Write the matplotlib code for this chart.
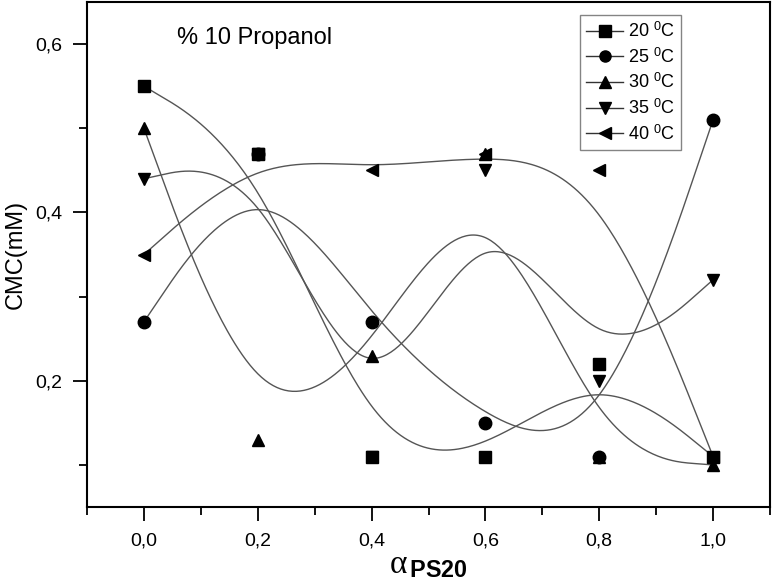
import numpy as np
from matplotlib import pyplot as plt
from matplotlib.lines import Line2D
from matplotlib.ticker import MultipleLocator, FuncFormatter

plt.rcParams['font.family'] = ['Liberation Sans', 'DejaVu Sans']
plt.rcParams['mathtext.fontset'] = 'custom'
plt.rcParams['mathtext.rm'] = 'Liberation Sans'
plt.rcParams['mathtext.it'] = 'Liberation Serif'
plt.rcParams['mathtext.bf'] = 'Liberation Sans:bold'

alpha = [0.0, 0.2, 0.4, 0.6, 0.8, 1.0]
cmc_20 = [0.55, 0.47, 0.11, 0.11, 0.22, 0.11]
cmc_25 = [0.27, 0.47, 0.27, 0.15, 0.11, 0.51]
cmc_30 = [0.50, 0.13, 0.23, 0.47, 0.11, 0.10]
cmc_35 = [0.44, 0.47, 0.11, 0.45, 0.20, 0.32]
cmc_40 = [0.35, 0.47, 0.45, 0.47, 0.45, 0.11]
labels = ['20 $^{\\rm 0}$C', '25 $^{\\rm 0}$C', '30 $^{\\rm 0}$C',
          '35 $^{\\rm 0}$C', '40 $^{\\rm 0}$C']
markers = ['s', 'o', '^', 'v', '<']
series = [cmc_20, cmc_25, cmc_30, cmc_35, cmc_40]


# 均匀三次B样条, 端点重复三次使曲线经过首尾两点
def bspline(px, py, num=60):
    px = [px[0]] * 2 + list(px) + [px[-1]] * 2
    py = [py[0]] * 2 + list(py) + [py[-1]] * 2
    P = np.array([px, py]).T
    t = np.linspace(0, 1, num)
    B = np.array([(1 - t) ** 3,
                  3 * t ** 3 - 6 * t ** 2 + 4,
                  -3 * t ** 3 + 3 * t ** 2 + 3 * t + 1,
                  t ** 3]).T / 6
    out = []
    for i in range(len(P) - 3):
        out.append(B @ P[i:i + 4])
    out = np.vstack(out)
    return out[:, 0], out[:, 1]


fig = plt.figure(figsize=(7.73, 5.79), dpi=100)
ax = fig.add_axes([87 / 773, 72 / 579, 683 / 773, 505 / 579])

handles = []
for y, m, lab in zip(series, markers, labels):
    cx, cy = bspline(alpha, y)
    ax.plot(cx, cy, color='#555555', lw=1.0, zorder=2)
    ax.plot(alpha, y, ls='none', marker=m, color='black', ms=9, zorder=3)
    handles.append(Line2D([], [], color='#333333', lw=1.0, marker=m,
                          mfc='black', mec='black', ms=8, label=lab))

ax.set_xlim(-0.1, 1.1)
ax.set_ylim(0.05, 0.65)
ax.xaxis.set_major_locator(MultipleLocator(0.2))
ax.xaxis.set_minor_locator(MultipleLocator(0.1))
ax.yaxis.set_major_locator(MultipleLocator(0.2))
ax.yaxis.set_minor_locator(MultipleLocator(0.1))
fmt = FuncFormatter(lambda v, pos: ('%.1f' % v).replace('.', ','))
ax.xaxis.set_major_formatter(fmt)
ax.yaxis.set_major_formatter(fmt)
ax.tick_params(which='major', direction='out', length=10, width=1.3,
               labelsize=14, pad=8)
ax.tick_params(which='minor', direction='out', length=6, width=1.3)
ax.tick_params(top=False, right=False, which='both')
for s in ax.spines.values():
    s.set_linewidth(1.5)

ax.set_ylabel('CMC(mM)', fontsize=17, labelpad=6)
ax.set_xlabel(r'$\alpha_{\,\mathbf{PS20}}$', fontsize=24, labelpad=0)

ax.text(0.132, 0.929, '% 10 Propanol', transform=ax.transAxes,
        fontsize=17, va='center', ha='left')

leg = ax.legend(handles=handles, loc='upper left', bbox_to_anchor=(0.722, 0.974),
                borderaxespad=0, fontsize=13, frameon=True, fancybox=False,
                handlelength=2.0, handletextpad=0.3, labelspacing=0.35,
                borderpad=0.35)
leg.get_frame().set_edgecolor('#666666')
leg.get_frame().set_linewidth(1.0)

plt.savefig('out.png', dpi=100)
